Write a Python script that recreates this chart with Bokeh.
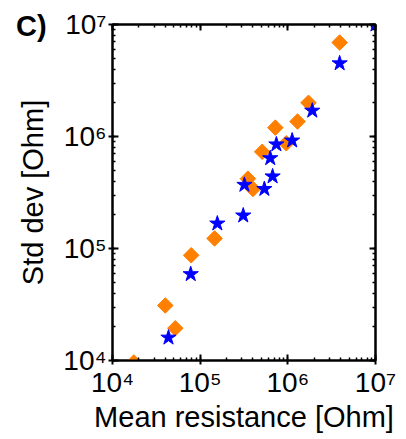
from bokeh.plotting import figure
from bokeh.models import LogAxis, LogTicker, CustomJSTickFormatter, Div
from bokeh.layouts import column
from bokeh.embed import file_html
from bokeh.resources import INLINE
import math

# Data
orange_x = [1.75e4, 4.0e4, 5.2e4, 7.9e4, 1.46e5, 3.5e5, 4.0e5, 5.1e5, 7.2e5, 9.6e5, 1.29e6, 1.72e6, 3.9e6]
orange_y = [9.6e3, 3.1e4, 1.94e4, 8.7e4, 1.23e5, 4.2e5, 3.4e5, 7.3e5, 1.2e6, 8.7e5, 1.36e6, 2.0e6, 6.9e6]
blue_x = [4.35e4, 7.8e4, 1.57e5, 3.1e5, 3.2e5, 5.4e5, 6.7e5, 6.3e5, 7.4e5, 1.12e6, 1.9e6, 3.9e6, 1.0e7]
blue_y = [1.6e4, 5.9e4, 1.67e5, 1.97e5, 3.7e5, 3.4e5, 4.4e5, 6.4e5, 8.5e5, 9.2e5, 1.7e6, 4.5e6, 1.0e7]
decade_ticks = [1e4, 1e5, 1e6, 1e7]
decade_labels = ["10⁴", "10⁵", "10⁶", "10⁷"]
panel_tag = "C)"

FONT = "Liberation Sans"

p = figure(width=406, height=439, x_axis_type="log", y_axis_type="log",
           x_range=(1e4, 1e7), y_range=(1e4, 1e7),
           output_backend="svg", toolbar_location=None,
           min_border_left=112, min_border_right=31, min_border_top=24, min_border_bottom=79)
p.grid.visible = False
p.outline_line_color = "black"
p.outline_line_width = 2
p.background_fill_color = "white"
p.border_fill_color = "white"

overrides = {int(t): s for t, s in zip(decade_ticks, decade_labels)}

for ax in (p.xaxis[0], p.yaxis[0]):
    ax.ticker = LogTicker(num_minor_ticks=10)
    ax.major_label_overrides = overrides
    ax.major_label_text_font = FONT
    ax.major_label_text_font_size = "28px"
    ax.major_label_text_color = "black"
    ax.axis_label_text_font = FONT
    ax.axis_label_text_font_size = "29px"
    ax.axis_label_text_font_style = "normal"
    ax.axis_label_text_color = "black"
    ax.axis_line_width = 2
    ax.major_tick_line_width = 2
    ax.minor_tick_line_width = 1.5
    ax.major_tick_in = 6
    ax.major_tick_out = 4
    ax.minor_tick_in = 3
    ax.minor_tick_out = 0

p.xaxis[0].axis_label = "Mean resistance [Ohm]"
p.yaxis[0].axis_label = "Std dev [Ohm]"
p.xaxis[0].major_label_standoff = 2
p.yaxis[0].major_label_standoff = 2
p.xaxis[0].axis_label_standoff = 0
p.yaxis[0].axis_label_standoff = 11

for loc in ("right", "above"):
    ax = LogAxis(ticker=LogTicker(num_minor_ticks=10),
                 formatter=CustomJSTickFormatter(code="return ''"))
    ax.axis_line_width = 2
    ax.major_tick_line_width = 2
    ax.minor_tick_line_width = 1.5
    ax.major_tick_in = 6
    ax.major_tick_out = 0
    ax.minor_tick_in = 3
    ax.minor_tick_out = 0
    ax.major_label_standoff = 0
    p.add_layout(ax, loc)

p.scatter(orange_x, orange_y, marker="square", size=11, angle=math.pi / 4,
          fill_color="#FF8000", line_color="#FF8000")
p.scatter(blue_x, blue_y, marker="star", size=16,
          fill_color="#0000FF", line_color="#0000FF")

# panel tag overlaid on the top-left corner of the figure
tag = Div(text=panel_tag, width=50, height=32, margin=(-428, 0, 0, 16),
          styles={"font-family": FONT, "font-weight": "bold", "font-size": "29px",
                  "line-height": "30px", "color": "black", "z-index": "10"})

layout = column(p, tag)

open("out.html", "w").write(file_html(layout, INLINE))
